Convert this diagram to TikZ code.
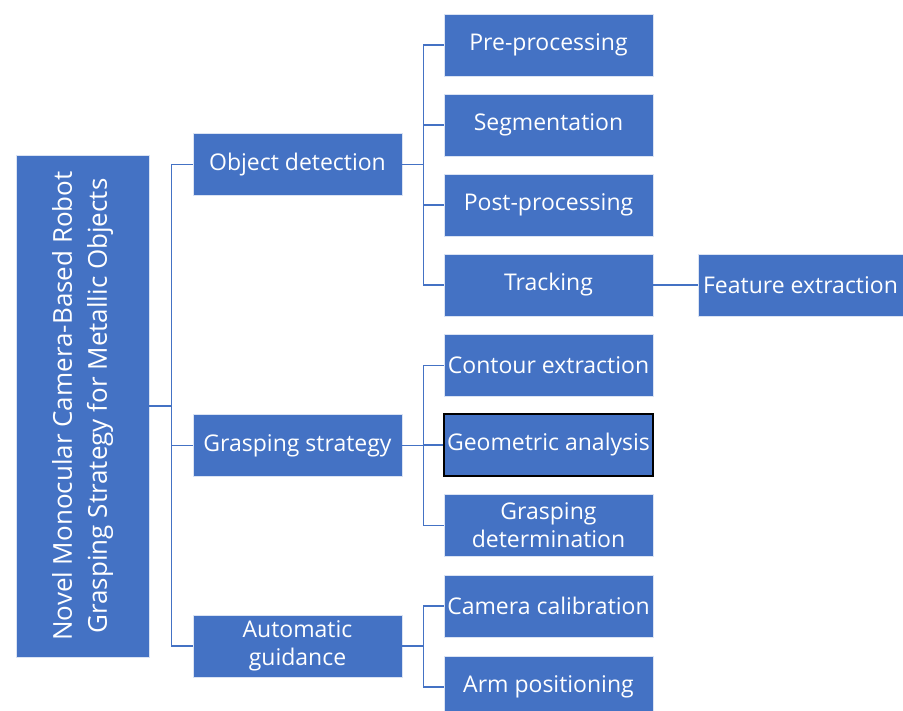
\documentclass[tikz,border=0pt]{standalone}
\usepackage{fontspec}
\setmainfont{Open Sans}
\definecolor{boxblue}{HTML}{4472C4}
\definecolor{linkblue}{HTML}{4472C4}
\begin{document}
\begin{tikzpicture}[x=1pt,y=-1pt,
  box/.style={fill=boxblue,draw=white!80!boxblue,line width=0.6pt,text=white,
    minimum width=209pt,minimum height=62pt,inner sep=0pt,align=center,
    font=\fontsize{23}{28}\selectfont},
  link/.style={draw=linkblue,line width=1.3pt}]
\useasboundingbox (0,0) rectangle (903,711);
% main
\node[box,minimum width=133pt,minimum height=502pt] (main) at (82.5,406) {};
\node[rotate=90,text=white,align=center,font=\fontsize{26}{35}\selectfont] (maintext) at (main.center) {Novel Monocular Camera-Based Robot\\Grasping Strategy for Metallic Objects};
% level 1
\node[box] (od) at (297.5,164.5) {Object detection};
\node[box] (gs) at (297.5,445.5) {Grasping strategy};
\node[box] (ag) at (297.5,646) {Automatic\\guidance};
% level 2
\node[box] (pre) at (548.5,45) {Pre-processing};
\node[box] (seg) at (548.5,125) {Segmentation};
\node[box] (post) at (548.5,205) {Post-processing};
\node[box] (trk) at (548.5,285) {Tracking};
\node[box] (ce) at (548.5,365.5) {Contour extraction};
\node[box,draw=black,line width=2pt] (ga) at (548.5,445) {Geometric analysis};
\node[box] (gd) at (548.5,525.5) {Grasping\\determination};
\node[box] (cc) at (548.5,606) {Camera calibration};
\node[box] (ap) at (548.5,687) {Arm positioning};
% level 3
\node[box,minimum width=205pt] (fe) at (800.5,285) {Feature extraction};
% connectors
\draw[link] (main.east) -- ++(22,0) |- (od.west);
\draw[link] (main.east) -- ++(22,0) |- (gs.west);
\draw[link] (main.east) -- ++(22,0) |- (ag.west);
\foreach \t in {pre,seg,post,trk}
  \draw[link] (od.east) -- ++(21,0) |- (\t.west);
\foreach \t in {ce,ga,gd}
  \draw[link] (gs.east) -- ++(21,0) |- (\t.west);
\foreach \t in {cc,ap}
  \draw[link] (ag.east) -- ++(21,0) |- (\t.west);
\draw[link] (trk.east) -- (fe.west);
\end{tikzpicture}
\end{document}
